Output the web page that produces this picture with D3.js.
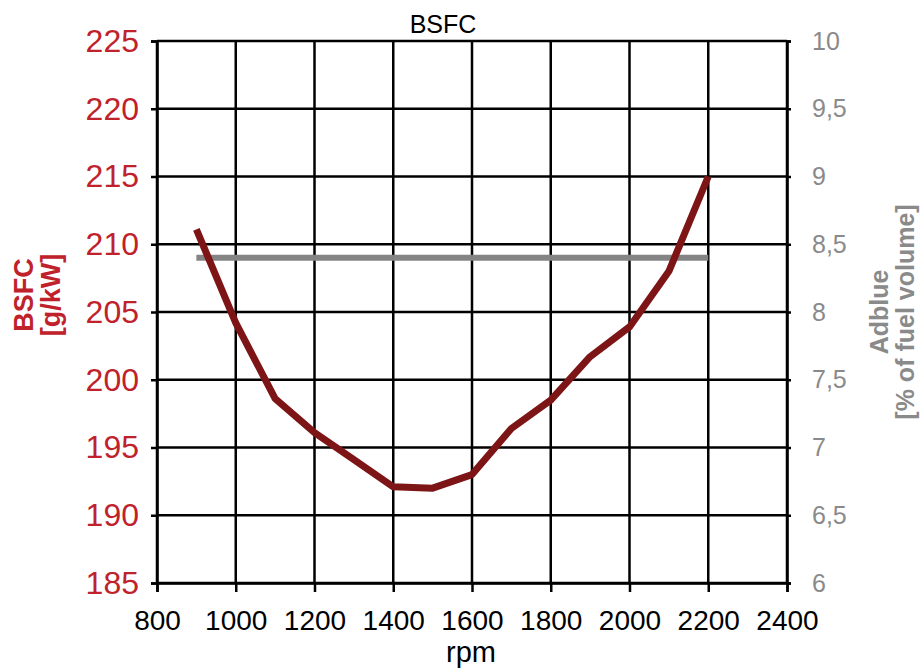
<!DOCTYPE html>
<html>
<head>
<meta charset="utf-8">
<script src="https://cdn.jsdelivr.net/npm/d3@7"></script>
<style>
  body { margin: 0; background: #fff; }
  text { font-family: "Liberation Sans", Arial, sans-serif; }
</style>
</head>
<body>
<svg id="chart" width="920" height="671"></svg>
<script>
// 数据
const rpm = [900, 1000, 1100, 1200, 1300, 1400, 1500, 1600, 1700, 1800, 1900, 2000, 2100, 2200];
const bsfc = [211.1, 204.2, 198.6, 196.1, 194.1, 192.1, 192.0, 193.0, 196.4, 198.5, 201.7, 203.9, 208.0, 215.0];
const adblueRpm = [900, 2200];
const adblue = [8.4, 8.4];
const xTicks = [800, 1000, 1200, 1400, 1600, 1800, 2000, 2200, 2400];
const yLeftTicks = [185, 190, 195, 200, 205, 210, 215, 220, 225];
const yRightTicks = [6, 6.5, 7, 7.5, 8, 8.5, 9, 9.5, 10];

const svg = d3.select("#chart");
const plotLeft = 157, plotRight = 787, plotTop = 41, plotBottom = 583;

const x = d3.scaleLinear().domain([800, 2400]).range([plotLeft, plotRight]);
const yL = d3.scaleLinear().domain([185, 225]).range([plotBottom, plotTop]);
const yR = d3.scaleLinear().domain([6, 10]).range([plotBottom, plotTop]);

// 逗号小数点
const fmtComma = d3.formatLocale({ decimal: ",", thousands: ".", grouping: [3], currency: ["", ""] }).format("~g");

// 网格
const grid = svg.append("g").attr("stroke", "#000").attr("stroke-width", 2.5);
grid.selectAll("line.h").data(yLeftTicks).enter().append("line")
  .attr("x1", plotLeft).attr("x2", plotRight)
  .attr("y1", d => yL(d)).attr("y2", d => yL(d));
grid.selectAll("line.v").data(xTicks).enter().append("line")
  .attr("y1", plotTop).attr("y2", plotBottom)
  .attr("x1", d => x(d)).attr("x2", d => x(d));

// 坐标轴
const axisLeft = svg.append("g")
  .attr("transform", `translate(${plotLeft},0)`)
  .call(d3.axisLeft(yL).tickValues(yLeftTicks).tickSize(6).tickPadding(12));
axisLeft.selectAll("text").attr("fill", "#c0222b").attr("font-size", 32);

const axisRight = svg.append("g")
  .attr("transform", `translate(${plotRight},0)`)
  .call(d3.axisRight(yR).tickValues(yRightTicks).tickFormat(fmtComma).tickSize(4).tickPadding(21));
axisRight.selectAll("text").attr("fill", "#8a8a8a").attr("font-size", 25);

const axisBottom = svg.append("g")
  .attr("transform", `translate(0,${plotBottom})`)
  .call(d3.axisBottom(x).tickValues(xTicks).tickFormat(d3.format("d")).tickSize(9).tickPadding(18));
axisBottom.selectAll("text").attr("fill", "#000").attr("font-size", 28);

[axisLeft, axisRight, axisBottom].forEach(a => {
  a.select(".domain").attr("stroke", "#000").attr("stroke-width", 2.5);
  a.selectAll(".tick line").attr("stroke", "#000").attr("stroke-width", 2.5);
});

// Adblue 线
svg.append("path")
  .datum(adblueRpm.map((r, i) => [r, adblue[i]]))
  .attr("fill", "none")
  .attr("stroke", "#848484")
  .attr("stroke-width", 6)
  .attr("d", d3.line().x(d => x(d[0])).y(d => yR(d[1])));

// BSFC 曲线
svg.append("path")
  .datum(rpm.map((r, i) => [r, bsfc[i]]))
  .attr("fill", "none")
  .attr("stroke", "#7d1517")
  .attr("stroke-width", 7)
  .attr("stroke-linejoin", "round")
  .attr("d", d3.line().x(d => x(d[0])).y(d => yL(d[1])));

// 标题
svg.append("text")
  .attr("x", 443).attr("y", 33)
  .attr("text-anchor", "middle")
  .attr("font-size", 25)
  .text("BSFC");

// x 轴标题
svg.append("text")
  .attr("x", 471).attr("y", 662)
  .attr("text-anchor", "middle")
  .attr("font-size", 29)
  .text("rpm");

// 左侧轴标题
const lt = svg.append("text")
  .attr("transform", "translate(33,295) rotate(-90)")
  .attr("text-anchor", "middle")
  .attr("font-size", 27)
  .attr("font-weight", "bold")
  .attr("fill", "#c0222b");
lt.append("tspan").attr("x", 0).attr("dy", 0).text("BSFC");
lt.append("tspan").attr("x", 0).attr("dy", 27).text("[g/kW]");

// 右侧轴标题
const rt = svg.append("text")
  .attr("transform", "translate(888,312) rotate(-90)")
  .attr("text-anchor", "middle")
  .attr("font-size", 25)
  .attr("font-weight", "bold")
  .attr("fill", "#8a8a8a");
rt.append("tspan").attr("x", 0).attr("dy", 0).text("Adblue");
rt.append("tspan").attr("x", 0).attr("dy", 26).text("[% of fuel volume]");
</script>
</body>
</html>
